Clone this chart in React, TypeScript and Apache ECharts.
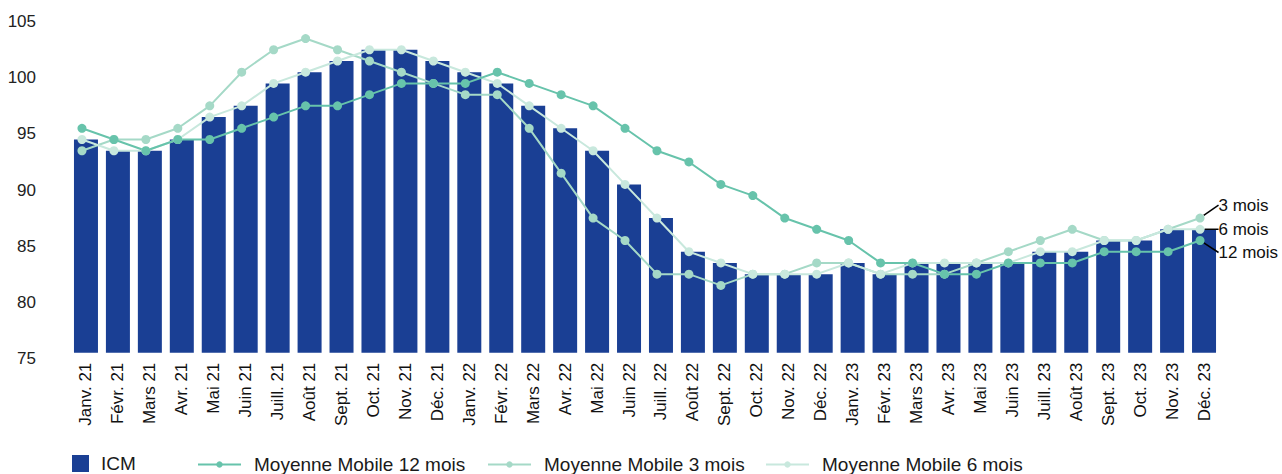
import React, { useEffect, useRef } from "react";
import * as echarts from "echarts";

const months = [
  "Janv. 21", "Févr. 21", "Mars 21", "Avr. 21", "Mai 21", "Juin 21", "Juill. 21", "Août 21", "Sept. 21", "Oct. 21", "Nov. 21", "Déc. 21",
  "Janv. 22", "Févr. 22", "Mars 22", "Avr. 22", "Mai 22", "Juin 22", "Juill. 22", "Août 22", "Sept. 22", "Oct. 22", "Nov. 22", "Déc. 22",
  "Janv. 23", "Févr. 23", "Mars 23", "Avr. 23", "Mai 23", "Juin 23", "Juill. 23", "Août 23", "Sept. 23", "Oct. 23", "Nov. 23", "Déc. 23",
];

const icm = [
  94, 93, 93, 94, 96, 97, 99, 100, 101, 102, 102, 101,
  100, 99, 97, 95, 93, 90, 87, 84, 83, 82, 82, 82,
  83, 82, 83, 83, 83, 83, 84, 84, 85, 85, 86, 86,
];

const mm12 = [
  95, 94, 93, 94, 94, 95, 96, 97, 97, 98, 99, 99,
  99, 100, 99, 98, 97, 95, 93, 92, 90, 89, 87, 86,
  85, 83, 83, 82, 82, 83, 83, 83, 84, 84, 84, 85,
];

const mm3 = [
  93, 94, 94, 95, 97, 100, 102, 103, 102, 101, 100, 99,
  98, 98, 95, 91, 87, 85, 82, 82, 81, 82, 82, 83,
  83, 82, 82, 82, 83, 84, 85, 86, 85, 85, 86, 87,
];

const mm6 = [
  94, 93, 93, 94, 96, 97, 99, 100, 101, 102, 102, 101,
  100, 99, 97, 95, 93, 90, 87, 84, 83, 82, 82, 82,
  83, 82, 83, 83, 83, 83, 84, 84, 85, 85, 86, 86,
];

const seriesNames = ["ICM", "Moyenne Mobile 12 mois", "Moyenne Mobile 3 mois", "Moyenne Mobile 6 mois"];
const endLabels = ["12 mois", "3 mois", "6 mois"];

const yMin = 75;
const yMax = 105;
const yInterval = 5;

const BLUE = "#1a3f94";
const C12 = "#67c3ab";
const C3 = "#a5d9c7";
const C6 = "#c8e8dd";
const FONT = "'Liberation Sans', Arial, Helvetica, sans-serif";

function withEndLabel(values: number[], text: string) {
  const last = values.length - 1;
  return values.map((v, i) =>
    i === last
      ? {
          value: v,
          label: {
            show: true,
            position: "right",
            distance: 5,
            formatter: text,
            fontSize: 17,
            fontFamily: FONT,
            color: "#111",
          },
          labelLine: { show: true, lineStyle: { color: "#000", width: 1.5 } },
        }
      : v
  );
}

export default function App() {
  const ref = useRef<HTMLDivElement>(null);
  useEffect(() => {
    if (!ref.current) return;
    const chart = echarts.init(ref.current, undefined, { renderer: "svg" });
    const lineBase = (name: string, color: string, data: any[], dy: number) => ({
      name,
      type: "line",
      xAxisIndex: 1,
      yAxisIndex: 1,
      data,
      symbol: "circle",
      symbolSize: 9,
      showAllSymbol: true,
      lineStyle: { color, width: 2 },
      itemStyle: { color },
      labelLayout: { dx: 9, dy, hideOverlap: false },
      emphasis: { disabled: true },
    });
    const legendText = {
      fontSize: 19,
      fontFamily: FONT,
      color: "#1a1a1a",
      padding: [0, 0, 0, 8],
    };
    const lineLegend = (name: string, left: number) => ({
      data: [name],
      left,
      top: 455,
      padding: 0,
      itemWidth: 43,
      itemHeight: 8,
      textStyle: legendText,
      selectedMode: false,
    });
    chart.setOption({
      animation: false,
      backgroundColor: "#ffffff",
      grid: [
        { left: 70, width: 1150, top: 16.1, bottom: 121.3, containLabel: false },
        { left: 66, width: 1150, top: 16.1, bottom: 121.3, containLabel: false },
        { left: 70, width: 1150, top: 21.7, bottom: 115.7, containLabel: false },
      ],
      xAxis: [
        {
          type: "category",
          gridIndex: 0,
          data: months,
          axisLine: { show: false },
          axisTick: { show: false },
          axisLabel: {
            rotate: 90,
            interval: 0,
            margin: 10,
            fontSize: 17,
            fontFamily: FONT,
            color: "#111",
          },
        },
        { type: "category", gridIndex: 1, data: months, show: false },
        { type: "category", gridIndex: 2, data: months, show: false },
      ],
      yAxis: [
        {
          type: "value",
          gridIndex: 0,
          min: yMin,
          max: yMax,
          interval: yInterval,
          show: false,
          splitLine: { show: false },
        },
        {
          type: "value",
          gridIndex: 1,
          min: yMin,
          max: yMax,
          interval: yInterval,
          show: false,
          splitLine: { show: false },
        },
        {
          type: "value",
          gridIndex: 2,
          min: yMin,
          max: yMax,
          interval: yInterval,
          splitLine: { show: false },
          axisLine: { show: false },
          axisTick: { show: false },
          axisLabel: {
            margin: 34,
            fontSize: 17,
            fontFamily: FONT,
            color: "#222",
          },
        },
      ],
      legend: [
        {
          data: [seriesNames[0]],
          left: 72,
          top: 454,
          padding: 0,
          itemWidth: 17,
          itemHeight: 17,
          icon: "rect",
          textStyle: { ...legendText, padding: [0, 0, 0, 7] },
          selectedMode: false,
        },
        lineLegend(seriesNames[1], 197),
        lineLegend(seriesNames[2], 487),
        lineLegend(seriesNames[3], 765),
      ],
      series: [
        {
          name: seriesNames[0],
          type: "bar",
          xAxisIndex: 0,
          yAxisIndex: 0,
          data: icm,
          barWidth: 24,
          itemStyle: { color: BLUE },
          emphasis: { disabled: true },
        },
        lineBase(seriesNames[2], C3, withEndLabel(mm3, endLabels[1]), -13),
        lineBase(seriesNames[3], C6, withEndLabel(mm6, endLabels[2]), 0),
        lineBase(seriesNames[1], C12, withEndLabel(mm12, endLabels[0]), 12),
      ],
    });
    return () => chart.dispose();
  }, []);
  return (
    <div
      ref={ref}
      style={{ position: "fixed", left: 0, top: 0, width: 1282, height: 474, background: "#fff" }}
    />
  );
}
